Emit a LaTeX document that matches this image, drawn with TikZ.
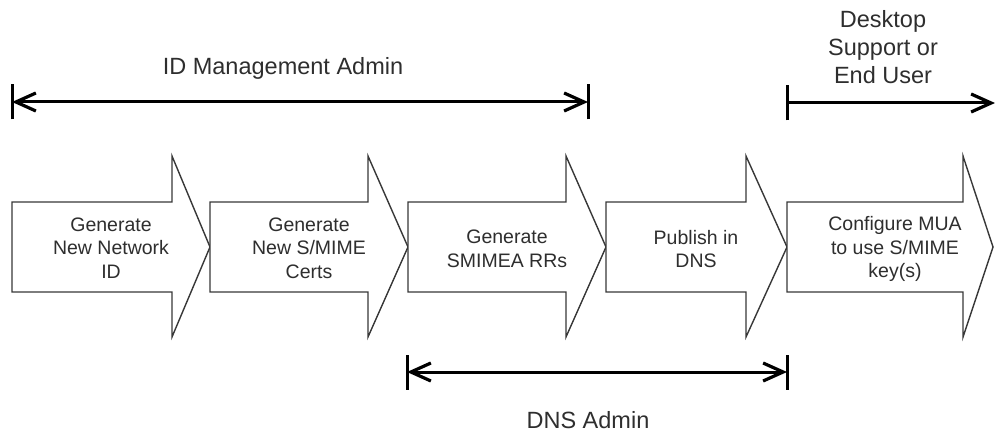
\documentclass[tikz,border=0pt]{standalone}
\usepackage{fontspec}
\setmainfont{Liberation Sans}
\usetikzlibrary{arrows.meta}
\definecolor{ink}{gray}{0.18}
\definecolor{edge}{gray}{0.22}
\begin{document}
\begin{tikzpicture}[x=1pt,y=-1pt,
  stepshape/.style={draw=edge, fill=white, line width=1.4pt, line join=miter},
  boxtxt/.style={text=ink, align=center, inner sep=0pt, font=\fontsize{19.5}{23.5}\selectfont},
  lbltxt/.style={text=ink, align=center, inner sep=0pt, font=\fontsize{23.5}{28}\selectfont},
  spanline/.style={line width=3pt, draw=black},
  barline/.style={line width=3pt, draw=black},
  tips/.style={{Straight Barb[length=20pt,width=18pt,line width=3.2pt]}-{Straight Barb[length=20pt,width=18pt,line width=3.2pt]}},
  tipr/.style={-{Straight Barb[length=20pt,width=18pt,line width=3.2pt]}}
]
\useasboundingbox (0,0) rectangle (995,433);
\newcommand{\chev}[3]{%
  \draw[stepshape] (#1,202) -- (#2,202) -- (#2,156) -- (#3,247) -- (#2,337) -- (#2,292) -- (#1,292) -- cycle;}
\chev{12}{172}{210}
\chev{210}{368}{408}
\chev{408}{566}{606}
\chev{606}{746}{787}
\chev{787}{963}{993}

\node[boxtxt] (t1) at (111,248) {Generate\\New Network\\ID};
\node[boxtxt] (t2) at (309,248) {Generate\\New S/MIME\\Certs};
\node[boxtxt] (t3) at (507,249) {Generate\\SMIMEA RRs};
\node[boxtxt] (t4) at (696,249) {Publish in\\DNS};
\node[boxtxt] (t5) at (895,249) {Configure MUA\\to use S/MIME\\key(s)};

% spans
\coordinate (idL) at (12,102);
\coordinate (idR) at (588,102);
\coordinate (dsL) at (787,103);
\coordinate (dsR) at (995,103);
\coordinate (dnL) at (407,372);
\coordinate (dnR) at (787,372);

\draw[spanline, tips] (idL) -- (idR);
\draw[spanline, tipr] (dsL) -- (dsR);
\draw[spanline, tips] (dnL) -- (dnR);

\draw[barline] ([yshift=-17.5pt]idL) -- ([yshift=17.5pt]idL);
\draw[barline] ([yshift=-17.5pt]idR) -- ([yshift=17.5pt]idR);
\draw[barline] ([yshift=-17.5pt]dsL) -- ([yshift=17.5pt]dsL);
\draw[barline] ([yshift=-17.5pt]dnL) -- ([yshift=17.5pt]dnL);
\draw[barline] ([yshift=-17.5pt]dnR) -- ([yshift=17.5pt]dnR);

\node[lbltxt] (l1) at (283,68) {ID Management Admin};
\node[lbltxt] (l2) at (883,47) {Desktop\\Support or\\End User};
\node[lbltxt] (l3) at (588,420) {DNS Admin};
\end{tikzpicture}
\end{document}
